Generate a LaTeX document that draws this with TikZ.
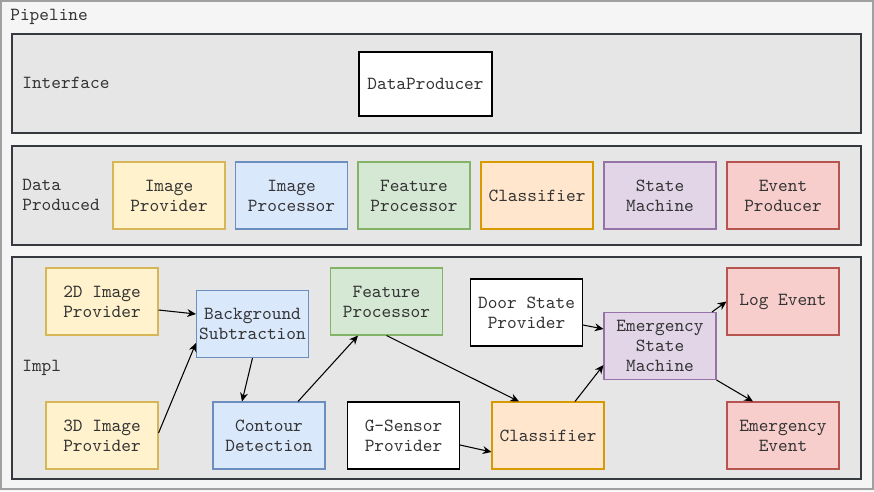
\documentclass[tikz,border=0pt]{standalone}
\usetikzlibrary{arrows.meta, positioning}
\usepackage{xcolor}
\definecolor{ylwfill}{HTML}{FFF2CC}\definecolor{ylwdraw}{HTML}{D6B656}
\definecolor{bluefill}{HTML}{DAE8FC}\definecolor{bluedraw}{HTML}{6C8EBF}
\definecolor{grnfill}{HTML}{D5E8D4}\definecolor{grndraw}{HTML}{82B366}
\definecolor{orgfill}{HTML}{FFE6CC}\definecolor{orgdraw}{HTML}{D79B00}
\definecolor{prpfill}{HTML}{E1D5E7}\definecolor{prpdraw}{HTML}{9673A6}
\definecolor{redfill}{HTML}{F8CECC}\definecolor{reddraw}{HTML}{B85450}
\definecolor{panelfill}{HTML}{E6E6E6}\definecolor{paneldraw}{HTML}{36393D}
\definecolor{outerfill}{HTML}{F5F5F5}\definecolor{outerdraw}{HTML}{A0A0A0}
\definecolor{txt}{HTML}{333333}

\begin{document}
\begin{tikzpicture}[x=0.02cm,y=-0.02cm,->,>={Stealth[length=5pt,width=4.5pt]},
    font=\ttfamily\fontsize{10.5}{11.3}\selectfont, text=txt]
    \tikzstyle{box}=[rectangle,draw,line width=0.6pt,minimum width=2.24cm,minimum height=1.34cm,align=center,inner sep=0pt]
    \tikzstyle{provider}=[box, fill=ylwfill, draw=ylwdraw]
    \tikzstyle{processor}=[box, fill=bluefill, draw=bluedraw]
    \tikzstyle{feature}=[box, fill=grnfill, draw=grndraw]
    \tikzstyle{classifier}=[box, fill=orgfill, draw=orgdraw]
    \tikzstyle{machine}=[box, fill=prpfill, draw=prpdraw]
    \tikzstyle{event}=[box, fill=redfill, draw=reddraw]
    \tikzstyle{plain}=[box, fill=white, draw=black]
    \tikzstyle{panel}=[-, fill=panelfill, draw=paneldraw, line width=0.8pt]
    \tikzstyle{annot}=[anchor=west, inner sep=0pt, align=left]
    \tikzstyle{link}=[->, draw=black, line width=0.6pt]

    % frames
    \fill[outerfill] (0,0) rectangle (874,491);
    \draw[-, draw=outerdraw, line width=0.8pt] (1,1) rectangle (873,489);
    \draw[panel] (12,34) rectangle (861,133);
    \draw[panel] (12,146) rectangle (861,245);
    \draw[panel] (12,257) rectangle (861,479);

    \node[annot] (L-pipe) at (10,17) {Pipeline};
    \node[annot] (L-int) at (22,83) {Interface};
    \node[annot] (L-data) at (22,195) {Data\\Produced};
    \node[annot] (L-impl) at (22,368) {Impl};

    % interface
    \node[plain, minimum width=2.66cm, minimum height=1.28cm] (DP) at (425.5,84) {DataProducer};

    % data produced
    \node[provider] (D-1) at (169,195.5) {Image\\Provider};
    \node[processor] (D-2) at (291.5,195.5) {Image\\Processor};
    \node[feature] (D-3) at (414,195.5) {Feature\\Processor};
    \node[classifier] (D-4) at (537,195.5) {Classifier};
    \node[machine] (D-5) at (660,195.5) {State\\Machine};
    \node[event] (D-6) at (783,195.5) {Event\\Producer};

    % impl
    \node[provider] (P-2D) at (102,301.5) {2D Image\\Provider};
    \node[provider] (P-3D) at (102,435.5) {3D Image\\Provider};
    \node[processor] (BG) at (252.5,324) {Background\\Subtraction};
    \node[processor] (CD) at (269,435.5) {Contour\\Detection};
    \node[feature] (FP) at (386.5,301.5) {Feature\\Processor};
    \node[plain] (GS) at (403.5,435.5) {G-Sensor\\Provider};
    \node[plain] (DS) at (526.5,312.5) {Door State\\Provider};
    \node[classifier] (CL) at (548,435.5) {Classifier};
    \node[machine] (ESM) at (660,346) {Emergency\\State\\Machine};
    \node[event] (LE) at (783,301.5) {Log Event};
    \node[event] (EE) at (783,435.5) {Emergency\\Event};

    \draw[link] ([yshift=-0.17cm]P-2D.east) -- ([yshift=0.2cm]BG.west);
    \draw[link] ([yshift=0.05cm]P-3D.east) -- ([yshift=-0.38cm]BG.west);
    \draw[link] (BG.south) -- ([xshift=-0.54cm]CD.north);
    \draw[link] ([xshift=0.58cm]CD.north) -- ([xshift=-0.57cm]FP.south);
    \draw[link] (FP.south) -- ([xshift=-0.58cm]CL.north);
    \draw[link] ([yshift=-0.19cm]GS.east) -- ([yshift=-0.33cm]CL.west);
    \draw[link] ([xshift=0.54cm]CL.north) -- ([yshift=-0.38cm]ESM.west);
    \draw[link] ([yshift=-0.25cm]DS.east) -- ([yshift=0.34cm]ESM.west);
    \draw[link] ([xshift=1.04cm]ESM.north) -- (LE.west);
    \draw[link] (ESM.south east) -- ([xshift=-0.6cm]EE.north);
\end{tikzpicture}
\end{document}
